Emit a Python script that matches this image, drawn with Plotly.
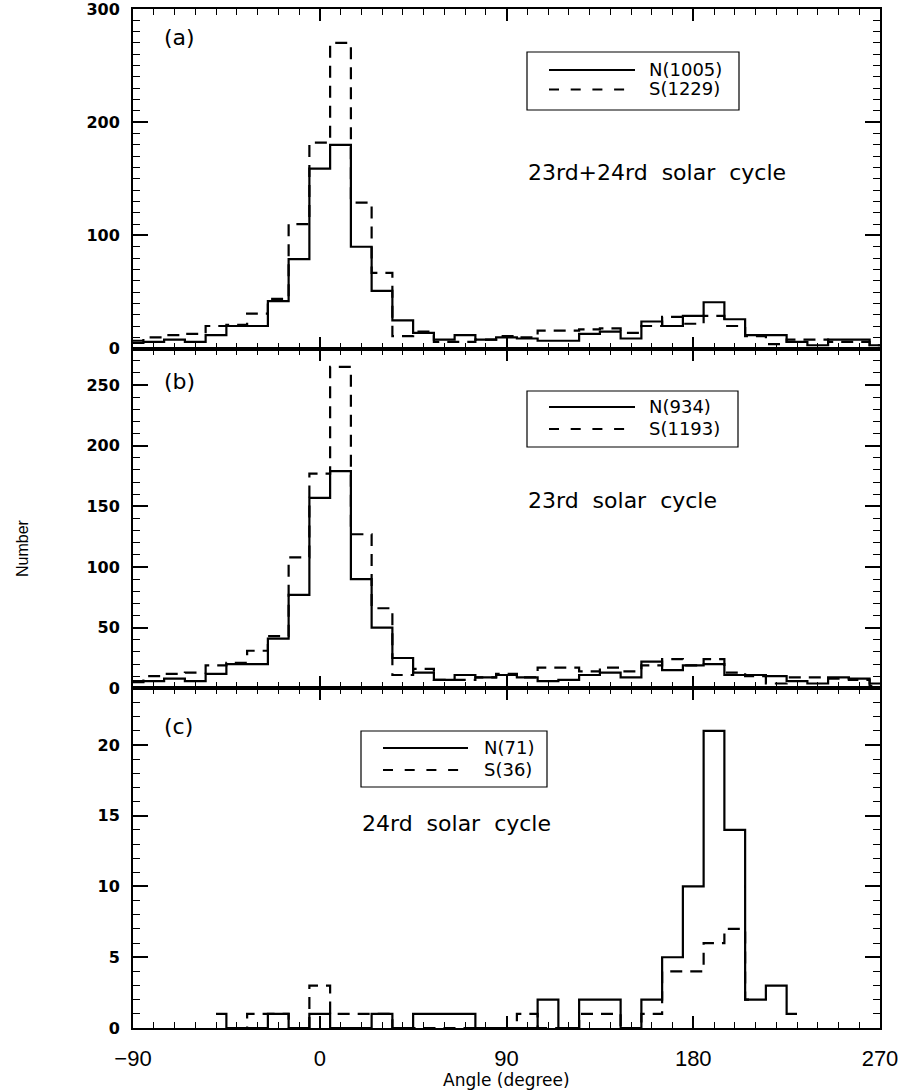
import plotly.graph_objects as go
from plotly.subplots import make_subplots

# ---------------- data (bin centres in degrees, counts) ----------------
angle_ab = [-90, -80, -70, -60, -50, -40, -30, -20, -10, 0, 10, 20, 30, 40, 50, 60, 70, 80, 90,
            100, 110, 120, 130, 140, 150, 160, 170, 180, 190, 200, 210, 220, 230, 240, 250, 260, 270]

n_a = [5, 6, 8, 6, 12, 20, 20, 42, 79, 159, 180, 90, 51, 25, 14, 8, 12, 8, 10,
       9, 7, 7, 13, 15, 9, 24, 20, 29, 41, 26, 12, 12, 6, 3, 8, 8, 3]
s_a = [7, 10, 12, 13, 20, 21, 31, 44, 110, 182, 270, 129, 67, 11, 15, 6, 6, 8, 11,
       10, 16, 16, 17, 18, 14, 20, 28, 22, 29, 20, 11, 4, 8, 8, 6, 6, 3]

n_b = [5, 6, 8, 6, 12, 20, 20, 41, 77, 157, 179, 90, 50, 25, 13, 7, 11, 9, 11,
       9, 6, 7, 11, 13, 9, 22, 15, 19, 20, 11, 11, 10, 6, 4, 9, 8, 4]
s_b = [6, 10, 12, 13, 19, 21, 31, 43, 108, 177, 265, 127, 66, 11, 16, 7, 7, 9, 12,
       9, 17, 17, 14, 17, 14, 19, 24, 19, 24, 13, 10, 4, 9, 9, 8, 7, 2]

angle_n_c = [-50, -40, -30, -20, -10, 0, 10, 20, 30, 40, 50, 60, 70, 80, 90, 100, 110, 120,
             130, 140, 150, 160, 170, 180, 190, 200, 210, 220, 230]
n_c = [1, 0, 0, 1, 0, 1, 0, 0, 1, 0, 1, 1, 1, 0, 0, 0, 2, 0,
       2, 2, 0, 2, 5, 10, 21, 14, 2, 3, 1]

angle_s_c = [-40, -30, -20, -10, 0, 10, 20, 30, 40, 50, 60, 70, 80, 90, 100, 110, 120,
             130, 140, 150, 160, 170, 180, 190, 200, 210]
s_c = [0, 1, 1, 0, 3, 1, 1, 1, 0, 0, 0, 0, 0, 0, 1, 0, 0,
       1, 1, 0, 1, 4, 4, 6, 7, 2]

panel_tags = ["(a)", "(b)", "(c)"]
panel_texts = ["23rd+24rd\u00a0 solar\u00a0 cycle", "23rd\u00a0 solar\u00a0 cycle", "24rd\u00a0 solar\u00a0 cycle"]
legend_n = ["N(1005)", "N(934)", "N(71)"]
legend_s = ["S(1229)", "S(1193)", "S(36)"]
y_ranges = [[0, 300], [0, 280], [0, 24]]
y_dticks = [100, 50, 5]
y_minor = [10, 10, 1]
x_tickvals = [-90, 0, 90, 180, 270]

# ---------------- figure ----------------
W, H = 900, 1090
L, R, T, B = 133, 20, 9, 62


def fx(p):
    return (p - L) / (W - L - R)


def fy(p):
    return 1 - (p - T) / (H - T - B)


fig = make_subplots(rows=3, cols=1, shared_xaxes=True, vertical_spacing=0)

DASH = "12px,8px"
series = [
    (angle_ab, n_a, angle_ab, s_a),
    (angle_ab, n_b, angle_ab, s_b),
    (angle_n_c, n_c, angle_s_c, s_c),
]
for i, (xn, yn, xs, ys) in enumerate(series, start=1):
    fig.add_trace(go.Scatter(x=xs, y=ys, mode="lines",
                             line=dict(shape="hvh", color="black", width=2.2, dash=DASH),
                             showlegend=False, hoverinfo="skip"), row=i, col=1)
    fig.add_trace(go.Scatter(x=xn, y=yn, mode="lines",
                             line=dict(shape="hvh", color="black", width=2.2),
                             showlegend=False, hoverinfo="skip"), row=i, col=1)

for i in range(1, 4):
    fig.update_xaxes(
        range=[-90, 270], tickmode="array", tickvals=x_tickvals,
        ticks="inside", ticklen=12, tickwidth=1.5, tickcolor="black",
        showline=True, linewidth=2, linecolor="black", mirror="ticks",
        showgrid=False, zeroline=False, automargin=False,
        minor=dict(dtick=10, tick0=-90, ticks="inside", ticklen=6, tickwidth=1,
                   tickcolor="black", showgrid=False),
        showticklabels=(i == 3), ticklabeloverflow="allow",
        tickfont=dict(family="Liberation Sans", size=22, color="black"),
        ticklabelstandoff=10,
        row=i, col=1)
    fig.update_yaxes(
        range=y_ranges[i - 1], tick0=0, dtick=y_dticks[i - 1],
        ticks="inside", ticklen=15, tickwidth=1.5, tickcolor="black",
        showline=True, linewidth=2, linecolor="black", mirror="ticks",
        showgrid=False, zeroline=False, automargin=False,
        minor=dict(dtick=y_minor[i - 1], tick0=0, ticks="inside", ticklen=7, tickwidth=1,
                   tickcolor="black", showgrid=False),
        tickfont=dict(family="DejaVu Sans", size=16, color="black", weight="bold"),
        ticklabelstandoff=8, ticklabeloverflow="allow",
        row=i, col=1)

shapes = []
annotations = []

# legend boxes, sample lines and texts (pixel layout)
legend_layout = [
    dict(box=(527, 52, 739, 110), ys=70, yd=89.5, lx=(549, 635), tx=648),
    dict(box=(527, 391, 738, 447), ys=407, yd=429, lx=(549, 635), tx=648),
    dict(box=(361, 731, 547, 787), ys=748, yd=770, lx=(383, 468), tx=483),
]
for k, lg in enumerate(legend_layout):
    x0, y0, x1, y1 = lg["box"]
    shapes.append(dict(type="rect", xref="paper", yref="paper",
                       x0=fx(x0), x1=fx(x1), y0=fy(y1), y1=fy(y0),
                       line=dict(color="black", width=1.2), fillcolor="rgba(0,0,0,0)"))
    shapes.append(dict(type="line", xref="paper", yref="paper",
                       x0=fx(lg["lx"][0]), x1=fx(lg["lx"][1]), y0=fy(lg["ys"]), y1=fy(lg["ys"]),
                       line=dict(color="black", width=1.8)))
    shapes.append(dict(type="line", xref="paper", yref="paper",
                       x0=fx(lg["lx"][0]), x1=fx(lg["lx"][1]), y0=fy(lg["yd"]), y1=fy(lg["yd"]),
                       line=dict(color="black", width=1.8, dash="10px,11.7px")))
    annotations.append(dict(text=legend_n[k], xref="paper", yref="paper",
                            x=fx(lg["tx"]), y=fy(lg["ys"] - 1), xanchor="left", yanchor="middle",
                            showarrow=False, borderpad=0,
                            font=dict(family="DejaVu Sans", size=18, color="black")))
    annotations.append(dict(text=legend_s[k], xref="paper", yref="paper",
                            x=fx(lg["tx"]), y=fy(lg["yd"] - 1), xanchor="left", yanchor="middle",
                            showarrow=False, borderpad=0,
                            font=dict(family="DejaVu Sans", size=18, color="black")))

# panel tags and cycle texts
tag_pos = [(162, 38), (162, 381.5), (162, 726.5)]
text_pos = [(526, 172), (526, 501), (360, 823)]
for k in range(3):
    annotations.append(dict(text=panel_tags[k], xref="paper", yref="paper",
                            x=fx(tag_pos[k][0]), y=fy(tag_pos[k][1]), xanchor="left", yanchor="middle",
                            showarrow=False, font=dict(family="DejaVu Sans", size=22, color="black")))
    annotations.append(dict(text=panel_texts[k], xref="paper", yref="paper",
                            x=fx(text_pos[k][0]), y=fy(text_pos[k][1]), xanchor="left", yanchor="middle",
                            showarrow=False, font=dict(family="DejaVu Sans", size=22, color="black")))

# axis titles
annotations.append(dict(text="Angle (degree)", xref="paper", yref="paper",
                        x=fx(506), y=fy(1080), xanchor="center", yanchor="middle",
                        showarrow=False, borderpad=0,
                        font=dict(family="DejaVu Sans", size=17, color="black")))
annotations.append(dict(text="Number", xref="paper", yref="paper",
                        x=fx(22), y=fy(548), xanchor="center", yanchor="middle", textangle=-90,
                        showarrow=False,
                        font=dict(family="Liberation Sans Narrow, Liberation Sans", size=16, color="black")))

fig.update_layout(
    width=W, height=H,
    margin=dict(l=L, r=R, t=T, b=B, autoexpand=False),
    paper_bgcolor="white", plot_bgcolor="white",
    shapes=shapes, annotations=annotations,
    showlegend=False,
)

fig.write_html("out.html",
               post_script="document.body.style.margin='0';document.body.style.overflow='hidden';")
